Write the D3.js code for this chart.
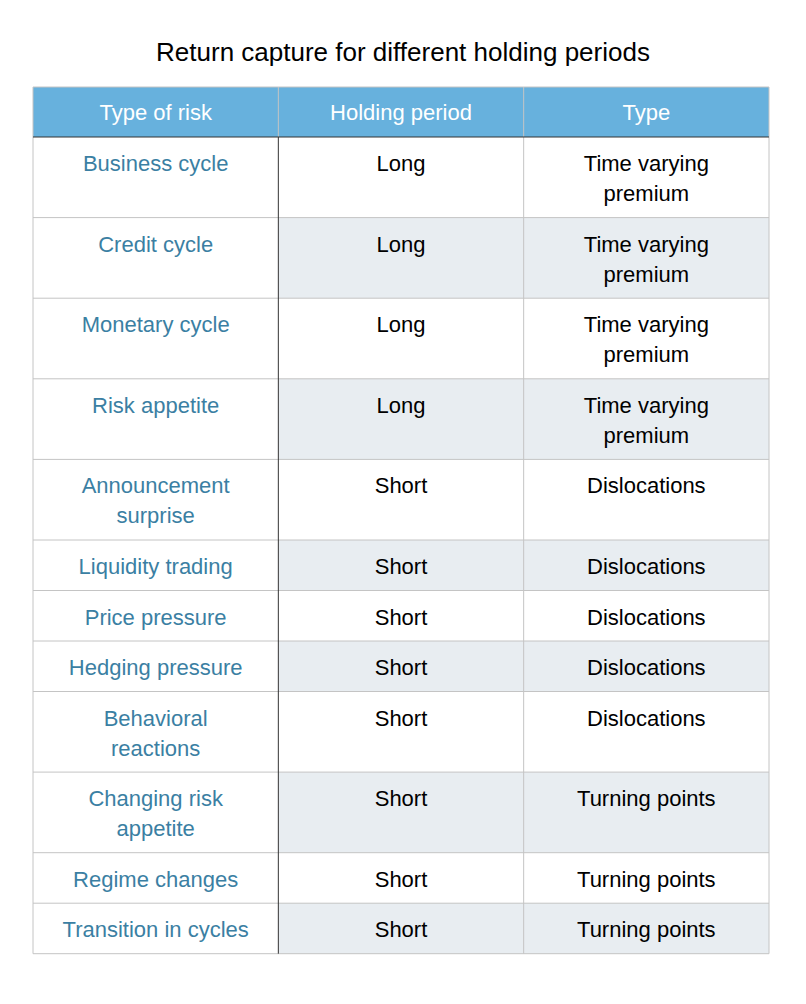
<!DOCTYPE html><html><head><meta charset="utf-8"><script src="https://cdn.jsdelivr.net/npm/d3@7"></script>
<style>body{margin:0;background:#fff}</style></head><body><svg id="c" width="806" height="1004"></svg>
<script>
const headers=["Type of risk","Holding period","Type"];
const risks=["Business cycle","Credit cycle","Monetary cycle","Risk appetite","Announcement|surprise","Liquidity trading","Price pressure","Hedging pressure","Behavioral|reactions","Changing risk|appetite","Regime changes","Transition in cycles"];
const periods=["Long","Long","Long","Long","Short","Short","Short","Short","Short","Short","Short","Short"];
const types=["Time varying|premium","Time varying|premium","Time varying|premium","Time varying|premium","Dislocations","Dislocations","Dislocations","Dislocations","Dislocations","Turning points","Turning points","Turning points"];
const svg=d3.select("#c");
const font="Helvetica, Arial, 'Liberation Sans', sans-serif";
svg.append("text").attr("x",403).attr("y",61).attr("text-anchor","middle").attr("font-family",font).attr("font-size",26).attr("fill","#000").text("Return capture for different holding periods");
const x=d3.scaleLinear().domain([0,3]).range([33,769]);
const top0=87,hh=50,lh=30;
const rows=risks.map((r,i)=>({cells:[r,periods[i],types[i]]}));
rows.forEach(r=>{r.lines=Math.max(...r.cells.map(c=>c.split("|").length));r.h=r.lines>1?80.6:50.5;});
let y=top0+hh;rows.forEach(r=>{r.y=y;y+=r.h;});
const bottom=y;
// header
svg.append("rect").attr("x",x(0)).attr("y",top0).attr("width",x(3)-x(0)).attr("height",hh).attr("fill","#67b1dd");
headers.forEach((h,j)=>svg.append("text").attr("x",(x(j)+x(j+1))/2).attr("y",top0+33).attr("text-anchor","middle").attr("font-family",font).attr("font-size",22).attr("fill","#fff").text(h));
rows.forEach((r,i)=>{
 if(i%2==1) svg.append("rect").attr("x",x(1)).attr("y",r.y).attr("width",x(3)-x(1)).attr("height",r.h).attr("fill","#e8edf1");
 r.cells.forEach((c,j)=>{
  const t=svg.append("text").attr("text-anchor","middle").attr("font-family",font).attr("font-size",22).attr("fill",j==0?"#3b7fa3":"#000");
  c.split("|").forEach((l,k)=>t.append("tspan").attr("x",(x(j)+x(j+1))/2).attr("y",r.y+34+k*lh).text(l));
 });
});
const g="#c4c4c4";
// horizontal lines
rows.forEach((r,i)=>{ if(i>0) svg.append("line").attr("x1",x(0)).attr("x2",x(3)).attr("y1",r.y).attr("y2",r.y).attr("stroke",g);});
svg.append("line").attr("x1",x(0)).attr("x2",x(3)).attr("y1",bottom).attr("y2",bottom).attr("stroke",g);
svg.append("line").attr("x1",x(0)).attr("x2",x(3)).attr("y1",top0).attr("y2",top0).attr("stroke",g);
[0,2,3].forEach(j=>svg.append("line").attr("x1",x(j)).attr("x2",x(j)).attr("y1",top0).attr("y2",bottom).attr("stroke",g));
svg.append("line").attr("x1",x(1)).attr("x2",x(1)).attr("y1",top0).attr("y2",top0+hh).attr("stroke",g);
svg.append("line").attr("x1",x(1)).attr("x2",x(1)).attr("y1",top0+hh).attr("y2",bottom).attr("stroke","#333");
svg.append("line").attr("x1",x(0)).attr("x2",x(3)).attr("y1",top0+hh).attr("y2",top0+hh).attr("stroke","#333");
</script></body></html>
